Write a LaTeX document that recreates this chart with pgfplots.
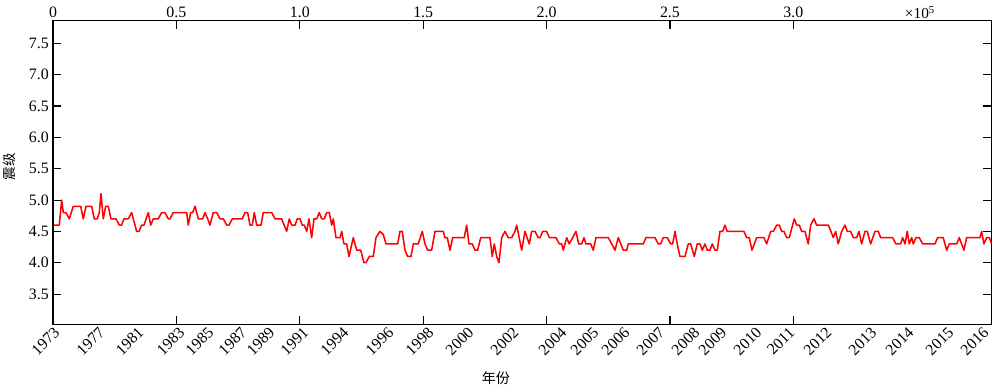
\documentclass[border=0pt]{standalone}
\usepackage{fontspec}
\setmainfont{Liberation Serif}
\newfontfamily\cjk{Noto Sans CJK SC}
\usepackage{pgfplots}
\usepackage{pgfplotstable}
\pgfplotsset{compat=1.18}
\pgfplotstableread{
x v
0.004 4.6
0.0255 4.6
0.0353 5.0
0.0417 4.8
0.0527 4.8
0.0660 4.7
0.0823 4.9
0.1122 4.9
0.1228 4.7
0.1337 4.9
0.1568 4.9
0.1673 4.7
0.1795 4.7
0.1876 4.8
0.1945 5.1
0.2038 4.7
0.2135 4.9
0.2241 4.9
0.2350 4.7
0.2553 4.7
0.2686 4.6
0.2784 4.6
0.2877 4.7
0.3051 4.7
0.3189 4.8
0.3254 4.7
0.3391 4.5
0.3485 4.5
0.3594 4.6
0.3687 4.6
0.3862 4.8
0.3959 4.6
0.4064 4.7
0.4267 4.7
0.4404 4.8
0.4538 4.8
0.4672 4.7
0.4741 4.7
0.4874 4.8
0.5417 4.8
0.5482 4.6
0.5579 4.8
0.5661 4.8
0.5754 4.9
0.5823 4.8
0.5887 4.7
0.6066 4.7
0.6159 4.8
0.6268 4.7
0.6362 4.6
0.6495 4.8
0.6633 4.8
0.6767 4.7
0.6900 4.7
0.7038 4.6
0.7131 4.6
0.7265 4.7
0.7670 4.7
0.7780 4.8
0.7889 4.8
0.7982 4.6
0.8075 4.6
0.8156 4.8
0.8254 4.6
0.8428 4.6
0.8521 4.8
0.8862 4.8
0.8995 4.7
0.9267 4.7
0.9469 4.5
0.9575 4.7
0.9672 4.6
0.9806 4.6
0.9899 4.7
1.0008 4.7
1.0101 4.6
1.0183 4.6
1.0280 4.5
1.0373 4.7
1.0482 4.4
1.0575 4.7
1.0685 4.7
1.0790 4.8
1.0887 4.7
1.0993 4.7
1.1090 4.8
1.1195 4.8
1.1293 4.6
1.1357 4.7
1.1467 4.4
1.1629 4.4
1.1698 4.5
1.1791 4.3
1.1900 4.3
1.1994 4.1
1.2168 4.4
1.2306 4.2
1.2468 4.2
1.2601 4.0
1.2682 4.0
1.2816 4.1
1.2978 4.1
1.3088 4.4
1.3250 4.5
1.3383 4.45
1.3493 4.3
1.3967 4.3
1.4060 4.5
1.4153 4.5
1.4263 4.2
1.4372 4.1
1.4506 4.1
1.4599 4.3
1.4801 4.3
1.4964 4.5
1.5073 4.3
1.5182 4.2
1.5344 4.2
1.5478 4.5
1.5814 4.5
1.5883 4.4
1.5977 4.4
1.6086 4.2
1.6195 4.4
1.6665 4.4
1.6763 4.6
1.6856 4.3
1.6990 4.3
1.7099 4.2
1.7208 4.2
1.7330 4.4
1.7707 4.4
1.7800 4.1
1.7881 4.3
1.7978 4.1
1.8071 4.0
1.8181 4.4
1.8314 4.5
1.8448 4.4
1.8586 4.4
1.8720 4.5
1.8789 4.6
1.8991 4.2
1.9125 4.5
1.9299 4.3
1.9396 4.5
1.9530 4.5
1.9664 4.4
1.9733 4.4
1.9842 4.5
2.0004 4.5
2.0110 4.4
2.0381 4.4
2.0515 4.3
2.0612 4.3
2.0677 4.2
2.0815 4.4
2.0920 4.3
2.1058 4.4
2.1191 4.5
2.1301 4.3
2.1422 4.3
2.1516 4.4
2.1596 4.3
2.1787 4.3
2.1892 4.2
2.2002 4.4
2.2500 4.4
2.2638 4.3
2.2772 4.2
2.2905 4.4
2.3108 4.2
2.3246 4.2
2.3310 4.3
2.3918 4.3
2.4027 4.4
2.4392 4.4
2.4526 4.3
2.4623 4.3
2.4729 4.4
2.4891 4.4
2.5028 4.3
2.5109 4.3
2.5203 4.5
2.5296 4.3
2.5405 4.1
2.5608 4.1
2.5742 4.3
2.5839 4.3
2.5985 4.1
2.6106 4.3
2.6216 4.3
2.6309 4.2
2.6418 4.3
2.6511 4.2
2.6621 4.2
2.6714 4.3
2.6823 4.2
2.6917 4.2
2.7026 4.5
2.7135 4.5
2.7228 4.6
2.7321 4.5
2.7998 4.5
2.8107 4.4
2.8213 4.4
2.8322 4.2
2.8513 4.4
2.8809 4.4
2.8918 4.3
2.9080 4.5
2.9186 4.5
2.9323 4.6
2.9429 4.6
2.9526 4.5
2.9619 4.5
2.9728 4.4
2.9834 4.4
3.0037 4.7
3.0134 4.6
3.0239 4.6
3.0337 4.5
3.0470 4.5
3.0604 4.3
3.0701 4.6
3.0835 4.7
3.0944 4.6
3.1414 4.6
3.1524 4.5
3.1617 4.4
3.1714 4.5
3.1819 4.3
3.1957 4.5
3.2091 4.6
3.2184 4.5
3.2322 4.5
3.2427 4.4
3.2565 4.4
3.2658 4.5
3.2767 4.3
3.2901 4.5
3.2994 4.5
3.3132 4.3
3.3306 4.5
3.3440 4.5
3.3537 4.4
3.4023 4.4
3.4157 4.3
3.4347 4.3
3.4428 4.4
3.4522 4.3
3.4615 4.5
3.4696 4.3
3.4793 4.4
3.4858 4.3
3.4968 4.4
3.5101 4.4
3.5239 4.3
3.5737 4.3
3.5847 4.4
3.6074 4.4
3.6211 4.2
3.6317 4.3
3.6617 4.3
3.6722 4.4
3.6912 4.2
3.7022 4.4
3.7561 4.4
3.7629 4.5
3.7723 4.3
3.7832 4.4
3.7937 4.4
3.8035 4.3
}\quakes
\begin{document}
\begin{tikzpicture}
\pgfplotsset{
  common/.style={
    scale only axis, width=798pt, height=258pt,
    at={(0,0)}, anchor=south west,
    xmin=0, xmax=3.8035, ymin=3.02, ymax=7.86,
    tick label style={font=\fontsize{13.5}{15}\selectfont},
    /pgf/number format/assume math mode=true,
  }
}
\begin{axis}[common,
  axis line style={line width=0.9pt},
  tick style={line width=0.9pt, black},
  tick align=inside, major tick length=7pt,
  xtick={0,0.5,1.0,1.5,2.0,2.5,3.0},
  xticklabels={0,0.5,1.0,1.5,2.0,2.5,3.0},
  xtick pos=both, xticklabel pos=upper,
  ytick={3.5,4.0,4.5,5.0,5.5,6.0,6.5,7.0,7.5},
  yticklabels={3.5,4.0,4.5,5.0,5.5,6.0,6.5,7.0,7.5},
  ytick pos=both, yticklabel pos=left,
  xticklabel style={yshift=-1pt},
]
\addplot[red, line width=1.3pt, line join=round] table[x=x, y=v] {\quakes};
\end{axis}
\begin{axis}[common,
  axis line style={draw=none},
  major tick length=0pt,
  ytick=\empty,
  xtick={0,0.1823,0.3404,0.5065,0.6240,0.7577,0.8712,1.0089,1.1710,1.3533,1.5154,1.6775,1.8598,2.0543,2.1840,2.3096,2.4514,2.5932,2.7026,2.8444,2.9781,3.1280,3.3104,3.4603,3.6224,3.7642},
  xticklabels={1973,1977,1981,1983,1985,1987,1989,1991,1994,1996,1998,2000,2002,2004,2005,2006,2007,2008,2009,2010,2011,2012,2013,2014,2015,2016},
  xtick pos=lower, xticklabel pos=lower,
  xticklabel style={rotate=45, anchor=north east, inner sep=1pt},
]
\end{axis}
\node[rotate=90, font=\cjk\fontsize{11.5}{13}\selectfont] at (-37pt,134pt) {震级};
\node[font=\cjk\fontsize{12}{14}\selectfont] at (376.6pt,-45.9pt) {年份};
\node[font=\fontsize{13}{15}\selectfont] at (737pt,265.2pt) {×10\textsuperscript{5}};
\pgfresetboundingbox
\path[use as bounding box] (-45.05pt,-54.4pt) rectangle (805.1pt,275.6pt);
\end{tikzpicture}
\end{document}
